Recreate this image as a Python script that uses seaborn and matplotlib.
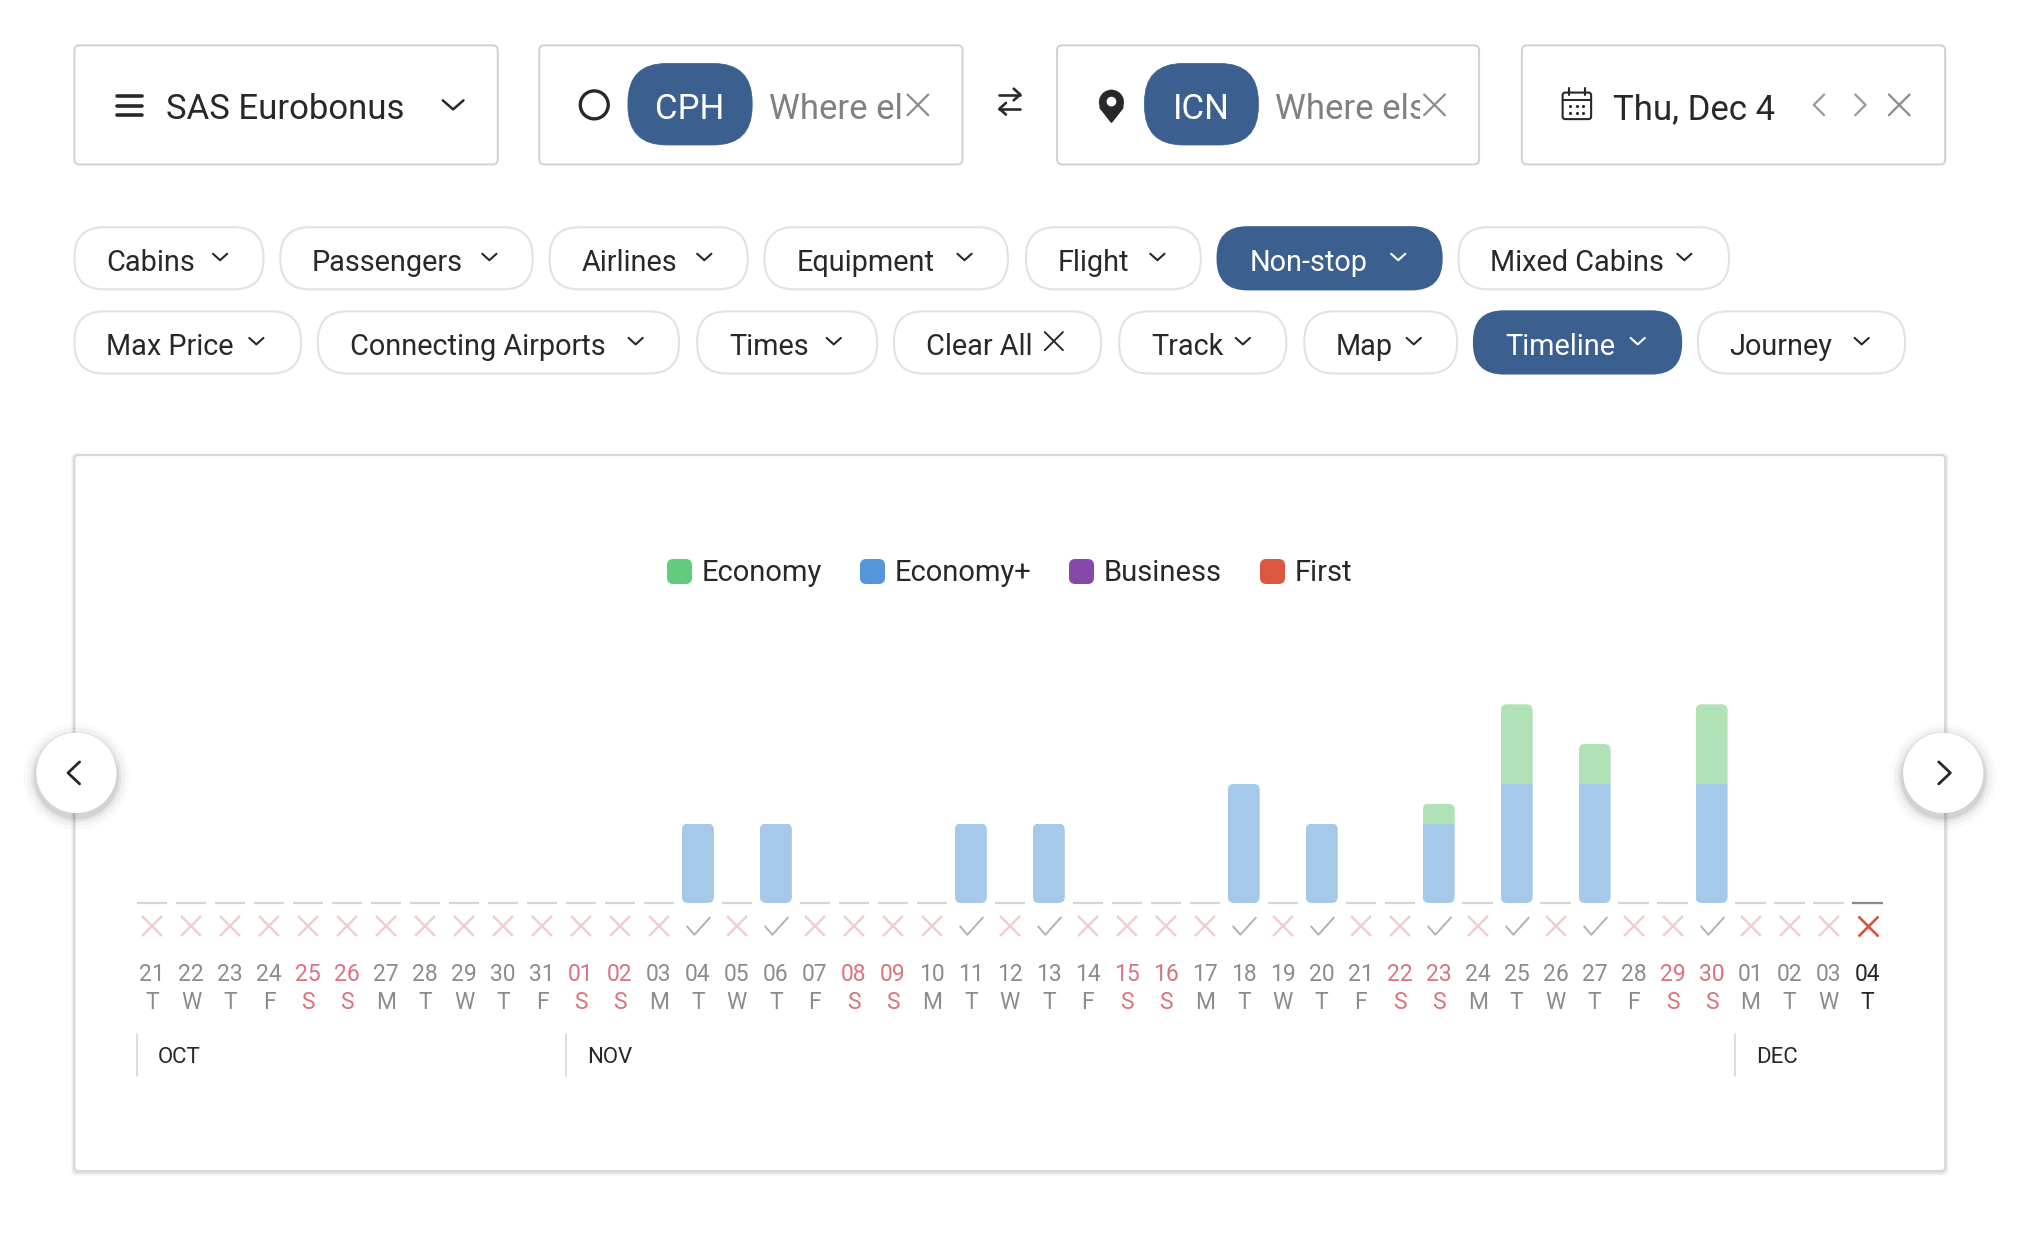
import numpy as np
import pandas as pd
import seaborn as sns
import matplotlib
matplotlib.use("Agg")
import matplotlib.pyplot as plt
from matplotlib.lines import Line2D
from matplotlib.patches import FancyBboxPatch, Circle, Rectangle, Polygon, BoxStyle
from matplotlib.path import Path

# ---------------- data ----------------
day_numbers = ["21","22","23","24","25","26","27","28","29","30","31",
               "01","02","03","04","05","06","07","08","09","10","11","12","13","14","15",
               "16","17","18","19","20","21","22","23","24","25","26","27","28","29","30",
               "01","02","03","04"]
weekdays = list("TWTFSSMTWTF" "SSMTWTFSSMTWTFS" "SMTWTFSSMTWTFSS" "MTWT")
months = ["OCT"]*11 + ["NOV"]*30 + ["DEC"]*4
economy_plus = [0]*14 + [4,0,4,0,0,0,0,4,0,4,0,0,0,0,6,0,4,0,0,4,0,6,0,6,0,0,6,0,0,0,0]
economy      = [0]*14 + [0,0,0,0,0,0,0,0,0,0,0,0,0,0,0,0,0,0,0,1,0,4,0,2,0,0,4,0,0,0,0]
cabin_names = ["Economy", "Economy+", "Business", "First"]
cabin_colors = ["#62CB80", "#5496DA", "#8549AC", "#DB5740"]
filters_row1 = ["Cabins", "Passengers", "Airlines", "Equipment", "Flight", "Non-stop", "Mixed Cabins"]
filters_row2 = ["Max Price", "Connecting Airports", "Times", "Clear All", "Track", "Map", "Timeline", "Journey"]

# ---------------- theme ----------------
sns.set_theme(style="white")
plt.rcParams["font.family"] = ["Roboto", "DejaVu Sans"]
INK = "#26282B"; NAVY = "#3B5F8F"; GRAY = "#8C8C8C"; PINK = "#D9737F"
W, H = 1568.0, 1568.0 * 1240 / 2030
fig = plt.figure(figsize=(20.3, 12.4), dpi=100, facecolor="white")

# page overlay whose units are a 1568-wide page
ui = fig.add_axes([0, 0, 1, 1], zorder=0)
ui.set_xlim(0, W); ui.set_ylim(H, 0); ui.axis("off")

def rbox(x0, y0, x1, y1, r, fc="white", ec="#D0D0D0", lw=1.6, z=2):
    p = FancyBboxPatch((x0, y0), x1-x0, y1-y0, boxstyle=f"round,pad=0,rounding_size={r}",
                       fc=fc, ec=ec, lw=lw, zorder=z)
    ui.add_patch(p); return p
def line(xs, ys, c=INK, lw=1.6, z=4):
    ui.plot(xs, ys, color=c, lw=lw, zorder=z, solid_capstyle="round", solid_joinstyle="round")
def vee(x, y, c=INK, hw=5.5, h=5, lw=1.5):
    line([x-hw, x, x+hw], [y-h/2, y+h/2, y-h/2], c, lw)
def cross(x, y, s=7.5, c=GRAY, lw=1.6):
    line([x-s, x+s], [y-s, y+s], c, lw); line([x-s, x+s], [y+s, y-s], c, lw)
def label(x, y, s, size=25, c=INK, ha="left", **kw):
    return ui.text(x, y, s, fontsize=size, color=c, ha=ha, va="center_baseline", zorder=5, **kw)

# top boxes
for x0, x1 in [(57.5, 384.5), (416.5, 743.5), (816.5, 1142.5), (1175.5, 1502.5)]:
    rbox(x0, 35, x1, 127, 4, lw=1.4)
for yy in (74, 81.5, 89):
    line([90, 110], [yy, yy], INK, 2.6)
label(128, 82, "SAS Eurobonus"); vee(350, 81, hw=8, h=7, lw=1.8)

ui.add_patch(Circle((459, 81), 10.8, fc="white", ec=INK, lw=2.4, zorder=4))
rbox(485, 49, 581, 112, 30, fc=NAVY, ec=NAVY, lw=0.5)
label(533, 82, "CPH", c="white", ha="center")
t = label(594, 82, "Where else", c="#808080")
t.set_clip_on(True)
t.set_clip_path(Rectangle((594, 50), 104, 60, transform=ui.transData))
cross(709, 81, s=8)

line([772, 788], [73, 73], INK, 1.9); line([783, 788, 783], [68.5, 73, 77.5], INK, 1.9)
line([772, 788], [84, 84], INK, 1.9); line([777, 772, 777], [79.5, 84, 88.5], INK, 1.9)

ui.add_patch(Polygon([[849.5, 83], [858.5, 94.5], [867.5, 83]], fc=INK, ec=INK, zorder=4))
ui.add_patch(Circle((858.5, 79), 9.6, fc=INK, ec=INK, lw=0.2, zorder=4))
ui.add_patch(Circle((858.5, 78.5), 3.2, fc="white", ec="white", zorder=5))
rbox(884, 49, 972, 112, 30, fc=NAVY, ec=NAVY, lw=0.5)
label(928, 82, "ICN", c="white", ha="center")
t = label(985, 82, "Where else", c="#808080")
t.set_clip_on(True)
t.set_clip_path(Rectangle((985, 50), 112, 60, transform=ui.transData))
cross(1108, 81, s=8)

rbox(1207, 71.5, 1229, 92, 2, ec=INK, lw=1.5, z=4)
line([1207, 1229], [77.5, 77.5], INK, 1.4)
for xx in (1212, 1224):
    line([xx, xx], [68, 73], INK, 1.5)
for yy in (82, 87):
    ui.scatter([1213, 1218, 1223], [yy]*3, s=5, color=INK, zorder=5, lw=0)
label(1246, 82, "Thu, Dec 4")
line([1409, 1401, 1409], [73, 81, 89], "#9A9A9A", 1.6)
line([1433, 1441, 1433], [73, 81, 89], "#9A9A9A", 1.6)
cross(1467, 81, s=8)

# filter chips
chips1 = [(57.5, 203.5, 82, 170), (216.5, 411.5, 241, 378), (424.5, 577.5, 449, 544), (590.5, 778.5, 615, 745),
          (792.5, 927.5, 817, 894), (940.5, 1113.5, 965, 1080), (1126.5, 1335.5, 1151, 1301)]
chips2 = [(57.5, 232.5, 82, 198), (245.5, 524.5, 270, 491), (538.5, 677.5, 563, 644), (690.5, 850.5, 715, 814),
          (864.5, 993.5, 889, 960), (1007.5, 1125.5, 1032, 1092), (1138.5, 1298.5, 1163, 1265), (1311.5, 1471.5, 1336, 1438)]
active = {"Non-stop", "Timeline"}
for names, boxes, (y0, y1) in [(filters_row1, chips1, (175.5, 223.5)), (filters_row2, chips2, (240.5, 288.5))]:
    for name, (x0, x1, tx, cx) in zip(names, boxes):
        on = name in active
        rbox(x0, y0, x1, y1, 23, fc=NAVY if on else "white", ec=NAVY if on else "#E2E2E2", lw=1.5)
        label(tx, (y0+y1)/2 + 1, name, size=20.8, c="white" if on else INK)
        if name == "Clear All":
            cross(cx, (y0+y1)/2 - 1, s=7, c=INK, lw=1.4)
        else:
            vee(cx, (y0+y1)/2 - 1, c="white" if on else INK)

# chart panel with soft edge
for k, a in [(3, .025), (2, .04), (1, .06)]:
    ui.add_patch(FancyBboxPatch((57.5-k, 351.5-k+1), 1445+2*k, 553+2*k,
                 boxstyle="round,pad=0,rounding_size=4", fc="black", ec="none", alpha=a, zorder=1))
rbox(57.5, 351.5, 1502.5, 904.5, 3, ec="#D8D8D8", lw=1.5, z=2)

# arrow buttons
for cx, ax_x, d in [(59, 57, -1), (1501, 1502, 1)]:
    for k, a in [(10, .02), (7, .03), (4, .05), (2, .08)]:
        ui.add_patch(Circle((cx, 600), 31+k, fc="black", ec="none", alpha=a, zorder=6))
    ui.add_patch(Circle((cx, 597), 31, fc="white", ec="none", zorder=7))
    ui.plot([ax_x-4.5*d, ax_x+4.5*d, ax_x-4.5*d], [588.5, 597, 605.5], color=INK, lw=2, zorder=8,
            solid_capstyle="round", solid_joinstyle="round")

# ---------------- chart ----------------
x_left, x_right, y_top, y_base = 102.4, 1457.6, 544.0, 697.5
ax = fig.add_axes([x_left/W, 1-y_base/H, (x_right-x_left)/W, (y_base-y_top)/H], zorder=1)
ax.patch.set_alpha(0)

keys = [f"{m}-{d}" for m, d in zip(months, day_numbers)]
df = pd.DataFrame({"day": keys, "plus": economy_plus, "econ": economy})
BAR_W = 0.82
sns.barplot(data=df, x="day", y="plus", color="#A6C9E9", saturation=1, width=BAR_W, linewidth=0, ax=ax)
n_plus = len(ax.patches)
sns.barplot(data=df, x="day", y="econ", bottom=df["plus"].to_numpy(), color="#B1E2B6", saturation=1,
            width=BAR_W, linewidth=0, ax=ax)
ax.set_xlim(-0.5, len(keys)-0.5)
ax.set_ylim(0, 10)
total = df["plus"].to_numpy() + df["econ"].to_numpy()

# round each stack's corners with a clip shape
aspect = ((x_right-x_left)/len(keys)) / ((y_base-y_top)/10)
for i, bar in enumerate(ax.patches):
    idx = i % n_plus
    if total[idx] == 0:
        continue
    clip = FancyBboxPatch((idx-BAR_W/2, 0), BAR_W, total[idx],
                          boxstyle="round,pad=0,rounding_size=0.16", mutation_aspect=aspect,
                          transform=ax.transData)
    bar.set_clip_path(clip)

# zero days carry a short dash at the baseline
zero = np.where(total == 0)[0]
ax.hlines([0.02]*len(zero), zero-0.39, zero+0.39, color="#D6D6D6", lw=1.6, clip_on=False)
ax.hlines([0.02], len(keys)-1.39, len(keys)-0.61, color="#8A8A8A", lw=1.6, clip_on=False)

# availability row
tr = ax.get_xaxis_transform()
CHECK = Path([(-1, 0.05), (-0.35, -0.7), (1, 0.8)], [Path.MOVETO, Path.LINETO, Path.LINETO])
STATUS_Y = -0.118
avail = np.where(total > 0)[0]; none = np.where(total == 0)[0]
ax.plot(none[:-1], [STATUS_Y]*len(none[:-1]), ls="", marker="x", ms=14.5, mew=1.7, color="#F0CDCE",
        transform=tr, clip_on=False)
ax.plot(none[-1:], [STATUS_Y], ls="", marker="x", ms=14.5, mew=1.9, color="#D9533B",
        transform=tr, clip_on=False)
ax.plot(avail, [STATUS_Y]*len(avail), ls="", marker=CHECK, ms=17, mew=1.4, mfc="none", color="#B2B2B2",
        transform=tr, clip_on=False)

# tick labels
ax.set_xticks(range(len(keys)))
ax.set_xticklabels([f"{d}\n{w}" for d, w in zip(day_numbers, weekdays)], fontsize=16.5, linespacing=1.27)
for i, (lab, w) in enumerate(zip(ax.get_xticklabels(), weekdays)):
    lab.set_color(INK if i == len(keys)-1 else (PINK if w == "S" else GRAY))
ax.tick_params(axis="x", length=0, pad=43)
ax.set_yticks([]); ax.set_xlabel(""); ax.set_ylabel("")
sns.despine(ax=ax, left=True, bottom=True)

# month boundaries
for m in dict.fromkeys(months):
    i = months.index(m)
    ax.plot([i-0.395]*2, [-0.66, -0.87], color="#DADADA", lw=1.3, transform=tr, clip_on=False)
    ax.text(i+0.15, -0.765, m, fontsize=16, color=INK, transform=tr, ha="left", va="center_baseline")

# legend
rounded = BoxStyle("Round", pad=0, rounding_size=0.25)(-0.5, -0.5, 1, 1, 1)
handles = [Line2D([], [], ls="", marker=rounded, ms=18, mew=0, color=c) for c in cabin_colors]
ax.legend(handles, cabin_names, loc="center", bbox_to_anchor=(0.4997, 1.66), ncol=4, frameon=False,
          fontsize=21, handlelength=0.85, handletextpad=0.36, columnspacing=1.28, labelcolor=INK)

fig.savefig("out.png", dpi=100, facecolor="white")
